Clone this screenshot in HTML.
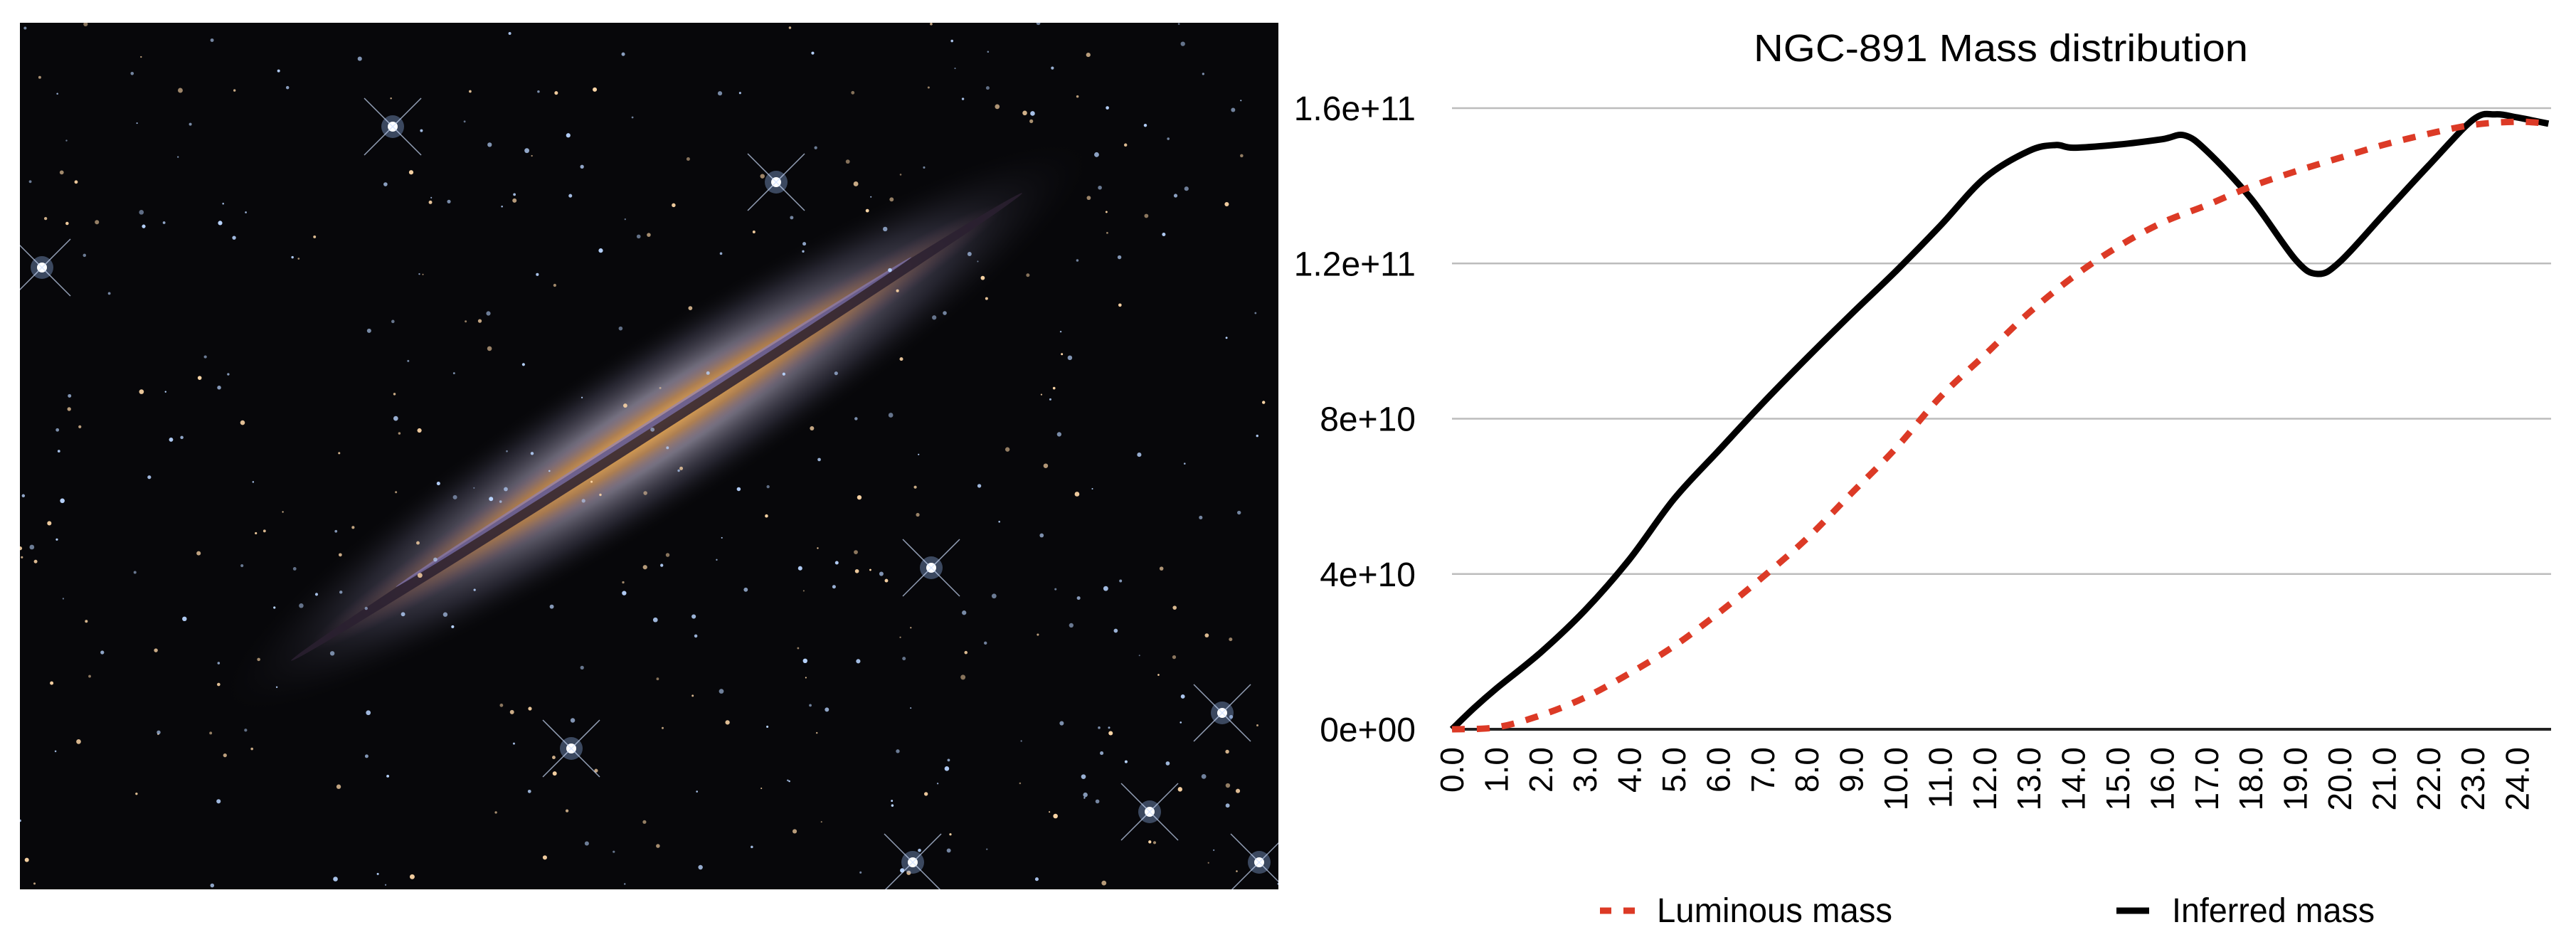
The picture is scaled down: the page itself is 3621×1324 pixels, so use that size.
<!DOCTYPE html>
<html><head><meta charset="utf-8">
<style>
html,body{margin:0;padding:0;background:#fff;}
body{width:3621px;height:1324px;overflow:hidden;position:relative;font-family:"Liberation Sans",sans-serif;}
#photo{position:absolute;left:28px;top:32px;width:1769px;height:1218px;}
#chart{position:absolute;left:0;top:0;}
</style></head>
<body>
<svg id="photo" viewBox="0 0 1769 1218" width="1769" height="1218">
  <defs>
    <radialGradient id="halo" cx="50%" cy="50%" r="50%">
      <stop offset="0" stop-color="#e8d8c0" stop-opacity="0.95"/>
      <stop offset="0.35" stop-color="#a9a3b8" stop-opacity="0.7"/>
      <stop offset="0.7" stop-color="#5a5870" stop-opacity="0.35"/>
      <stop offset="1" stop-color="#111" stop-opacity="0"/>
    </radialGradient>
    <radialGradient id="core" cx="50%" cy="50%" r="50%">
      <stop offset="0" stop-color="#f0b050"/>
      <stop offset="0.5" stop-color="#b07840" stop-opacity="0.8"/>
      <stop offset="1" stop-color="#604060" stop-opacity="0"/>
    </radialGradient>
  </defs>
  <rect width="1769" height="1218" fill="#07070a"/>
  <g transform="translate(895,568) rotate(-32.6)">
    <ellipse rx="720" ry="120" fill="url(#halo)"/>
    <ellipse rx="580" ry="44" fill="url(#core)"/>
    <ellipse rx="610" ry="10" fill="#2a2030" opacity="0.85"/>
    <ellipse rx="430" ry="5" cy="-8" fill="#8a80c8" opacity="0.6"/>
  </g>
  <g id="stars"></g>
</svg>
<svg id="chart" width="3621" height="1324" viewBox="0 0 3621 1324">
  <text x="2465" y="86" font-size="54" textLength="695" lengthAdjust="spacingAndGlyphs" fill="#000">NGC-891 Mass distribution</text>
  <g id="grid"></g>
  <g id="yticks"></g>
  <g id="xticks"></g>
  <g id="series"></g>
  <g>
    <line x1="2249" y1="1280" x2="2298" y2="1280" stroke="#dc3a26" stroke-width="9" stroke-dasharray="16,17"/>
    <text x="2329" y="1296" font-size="48" textLength="331" lengthAdjust="spacingAndGlyphs">Luminous mass</text>
    <line x1="2975" y1="1280" x2="3021" y2="1280" stroke="#000" stroke-width="9"/>
    <text x="3053" y="1296" font-size="48" textLength="285" lengthAdjust="spacingAndGlyphs">Inferred mass</text>
  </g>
</svg>
<script>
// chart data (values in units of 1e10)
const yTickValues = [0, 4, 8, 12, 16];
const yTickLabels = ["0e+00", "4e+10", "8e+10", "1.2e+11", "1.6e+11"];
const xTickValues = [0,1,2,3,4,5,6,7,8,9,10,11,12,13,14,15,16,17,18,19,20,21,22,23,24];
const inferredX = [0,0.5,1,2,3,4,5,6,7,8,9,10,11,12,13,13.6,14,15,16,16.5,17,18,19,19.5,20,21,22,23,23.5,24,24.7];
const inferredY = [0,0.55,1.05,1.98,3.07,4.38,5.93,7.17,8.4,9.57,10.7,11.8,12.97,14.2,14.9,15.05,14.98,15.06,15.2,15.3,14.9,13.67,12.1,11.73,12.04,13.28,14.52,15.7,15.84,15.76,15.6];
const luminousX = [0,1,2,3,4,5,6,7,8,9,10,11,12,13,14,15,16,17,18,19,20,21,22,23,24,24.7];
const luminousY = [0,0.05,0.36,0.82,1.44,2.14,2.99,3.92,4.92,6.08,7.24,8.56,9.64,10.73,11.66,12.43,13.05,13.5,13.98,14.37,14.72,15.06,15.34,15.57,15.65,15.6];

const NS = "http://www.w3.org/2000/svg";
const X0 = 2041, XU = 62.4, XR = 3586;
const Y0 = 1025, YTOP = 152, YMAX = 16;
function sx(v){ return X0 + v*XU; }
function sy(v){ return Y0 - (v/YMAX)*(Y0-YTOP); }
function mk(tag, attrs, parent){ const e=document.createElementNS(NS,tag); for(const k in attrs) e.setAttribute(k,attrs[k]); parent.appendChild(e); return e; }

const grid=document.getElementById('grid');
const yt=document.getElementById('yticks');
yTickValues.forEach((v,i)=>{
  if(v>0){
    const g=mk('line',{x1:X0,x2:XR,y1:sy(v),y2:sy(v),stroke:'#bcbcbc','stroke-width':2.5},grid);
    
    
  }
  const t=mk('text',{x:1990,y:sy(v)+17,'font-size':48,'text-anchor':'end'},yt);
  t.textContent=yTickLabels[i];
  
  
});
const ax=mk('line',{x1:X0,x2:XR,y1:Y0,y2:Y0,stroke:'#222','stroke-width':4},grid);



const xt=document.getElementById('xticks');
xTickValues.forEach(v=>{
  const x=sx(v)+16, y=1050;
  const t=mk('text',{x:x,y:y,'font-size':46,'text-anchor':'end',transform:`rotate(-90 ${x} ${y})`},xt);
  t.textContent=v.toFixed(1);
  
  
});

function smoothPath(xs,ys){
  const p=xs.map((x,i)=>[sx(x),sy(ys[i])]);
  let d=`M${p[0][0]},${p[0][1]}`;
  for(let i=0;i<p.length-1;i++){
    const p0=p[Math.max(0,i-1)],p1=p[i],p2=p[i+1],p3=p[Math.min(p.length-1,i+2)];
    const c1=[p1[0]+(p2[0]-p0[0])/6,p1[1]+(p2[1]-p0[1])/6];
    const c2=[p2[0]-(p3[0]-p1[0])/6,p2[1]-(p3[1]-p1[1])/6];
    d+=` C${c1[0]},${c1[1]} ${c2[0]},${c2[1]} ${p2[0]},${p2[1]}`;
  }
  return d;
}
const ser=document.getElementById('series');
const inf=mk('path',{d:smoothPath(inferredX,inferredY),fill:'none',stroke:'#000','stroke-width':9,'stroke-linejoin':'round'},ser);


const lum=mk('path',{d:smoothPath(luminousX,luminousY),fill:'none',stroke:'#dc3a26','stroke-width':9,'stroke-dasharray':'18,17'},ser);



// decorative stars in photo
const st=document.getElementById('stars');
let seed=7;
function rnd(){ seed=(seed*16807)%2147483647; return seed/2147483647; }
for(let i=0;i<420;i++){
  const c=mk('circle',{cx:rnd()*1769,cy:rnd()*1218,r:1+rnd()*2.5,fill:rnd()<0.6?'#b8d4ff':'#ffd8a8',opacity:0.5+rnd()*0.5},st);
  
  
}
const bright=[[524,146],[1281,766],[1690,970],[775,1020],[1742,1180],[31,344],[1063,224],[1588,1109],[1255,1180]];
bright.forEach(b=>{
  const g=mk('g',{},st);
  
  
  mk('circle',{cx:b[0],cy:b[1],r:16,fill:'#9fc4ff',opacity:0.35},g);
  mk('circle',{cx:b[0],cy:b[1],r:7,fill:'#fff'},g);
  mk('line',{x1:b[0]-40,y1:b[1]-40,x2:b[0]+40,y2:b[1]+40,stroke:'#cfe0ff','stroke-width':1.5,opacity:0.7},g);
  mk('line',{x1:b[0]-40,y1:b[1]+40,x2:b[0]+40,y2:b[1]-40,stroke:'#cfe0ff','stroke-width':1.5,opacity:0.7},g);
});
</script>
</body></html>
